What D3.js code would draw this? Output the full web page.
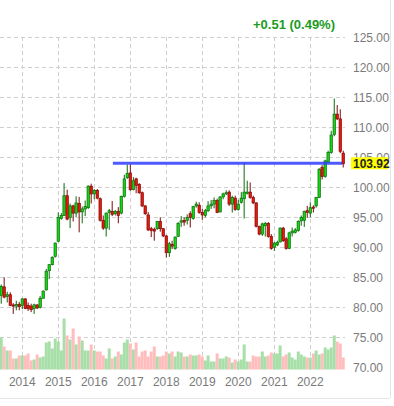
<!DOCTYPE html>
<html>
<head>
<meta charset="utf-8">
<script src="https://cdn.jsdelivr.net/npm/d3@7"></script>
<style>
  body { margin: 0; background: #fff; }
  svg { display: block; font-family: "Liberation Sans", Arial, sans-serif; }
</style>
</head>
<body>
<svg id="chart" width="394" height="406"></svg>
<script>
// monthly candles, Jun 2013 .. Dec 2022
var firstMonth = new Date(2013, 5, 1);

var open = [
  82.0, 83.4, 81.8, 82.1, 80.4, 80.2, 80.5,
  80.3, 81.4, 80.3, 80.2, 79.8, 80.4, 80.0, 81.5, 82.9, 86.1, 87.1, 88.5,
  91.0, 94.8, 95.3, 98.6, 95.0, 96.9, 95.7, 97.3, 95.9, 96.4, 96.6, 100.2,
  98.9, 99.5, 98.1, 94.5, 93.2, 95.8, 96.0, 95.6, 96.0, 95.7, 98.5, 101.6,
  102.4, 99.6, 101.4, 100.5, 99.1, 96.9, 95.4, 93.1, 93.0, 93.1, 94.3, 93.1,
  91.9, 89.1, 90.5, 89.8, 91.8, 94.2, 94.5, 94.5, 95.6, 94.8, 96.9, 97.0,
  95.8, 95.3, 96.1, 96.9, 97.2, 97.8, 95.9, 98.4, 98.9, 99.2, 97.2, 98.2,
  96.3, 97.5, 98.1, 99.0, 99.2, 98.3, 97.4, 93.5, 92.2, 93.6, 94.0, 91.8,
  90.0, 90.4, 90.9, 93.2, 91.4, 89.8, 92.4, 92.5, 92.8, 94.4, 94.5, 96.1,
  95.7, 96.7, 96.9, 98.3, 103.3, 101.8, 104.2, 105.8, 108.8, 112.2, 111.4, 105.7
];
var close = [
  83.5, 81.7, 82.1, 80.3, 80.2, 80.5, 80.1,
  81.4, 79.8, 79.8, 79.6, 80.4, 79.9, 81.5, 82.7, 86.0, 87.1, 88.3, 90.7,
  95.0, 95.3, 98.6, 94.7, 96.9, 95.7, 97.4, 95.9, 96.4, 96.8, 100.2, 98.9,
  99.5, 98.2, 94.5, 93.2, 95.7, 96.1, 95.5, 96.0, 95.3, 98.5, 101.4, 102.3,
  99.6, 101.1, 100.3, 99.1, 96.9, 95.6, 92.9, 92.8, 92.7, 94.3, 93.1, 91.9,
  89.1, 90.6, 90.2, 91.7, 94.0, 94.4, 94.2, 95.0, 95.0, 96.8, 97.2, 95.8,
  95.4, 96.1, 96.9, 97.2, 97.8, 95.8, 98.4, 98.9, 99.1, 97.2, 98.3, 96.3,
  97.2, 98.2, 99.2, 99.2, 98.3, 97.4, 93.5, 92.2, 93.9, 94.0, 91.8, 89.8,
  90.7, 90.8, 93.2, 91.1, 89.8, 92.4, 92.7, 92.9, 94.3, 95.0, 96.0, 95.8,
  96.6, 96.5, 98.3, 103.0, 101.8, 104.4, 105.8, 108.7, 112.2, 111.4, 106.0, 103.92
];
var high = [
  83.8, 85.0, 82.6, 82.5, 80.7, 81.1, 80.9,
  81.5, 81.5, 80.8, 80.6, 80.6, 80.5, 81.9, 82.8, 86.4, 87.2, 88.5, 90.8,
  95.8, 95.7, 100.7, 99.6, 97.3, 97.1, 98.5, 98.4, 96.8, 97.8, 100.3, 100.6,
  99.7, 99.7, 98.3, 95.3, 95.8, 96.4, 97.7, 96.2, 96.7, 98.6, 102.1, 103.8,
  103.8, 101.7, 101.6, 100.7, 99.3, 97.0, 95.9, 93.4, 93.3, 94.4, 95.0, 93.2,
  92.0, 90.9, 91.1, 91.8, 94.2, 95.2, 95.0, 95.5, 96.0, 96.9, 97.6, 97.5,
  96.4, 96.4, 97.7, 97.9, 98.3, 98.1, 98.5, 99.1, 99.5, 99.5, 98.6, 98.6,
  97.9, 99.2, 104.1, 101.1, 100.8, 98.6, 97.5, 93.6, 94.1, 94.2, 94.2, 92.2,
  90.9, 91.1, 93.3, 93.4, 91.7, 92.6, 93.3, 93.2, 94.5, 95.3, 96.1, 96.9,
  97.5, 97.0, 98.4, 103.2, 103.7, 104.6, 106.1, 109.4, 114.8, 113.7, 113.0, 106.1
];
var low = [
  80.6, 81.5, 80.8, 80.2, 78.9, 79.5, 79.5,
  79.7, 79.7, 79.4, 79.2, 78.9, 79.7, 79.8, 81.5, 82.8, 84.7, 87.0, 88.3,
  90.9, 94.6, 95.2, 94.5, 93.2, 94.3, 95.0, 92.5, 94.0, 95.2, 96.4, 97.3,
  98.0, 98.0, 94.3, 92.9, 91.8, 92.9, 95.2, 95.3, 94.0, 95.5, 98.3, 101.4,
  99.4, 99.5, 99.0, 98.9, 96.7, 95.4, 92.7, 91.7, 91.1, 92.9, 92.6, 91.7,
  88.3, 88.4, 89.7, 89.6, 91.8, 93.4, 93.6, 93.8, 93.3, 94.6, 96.6, 95.6,
  94.6, 95.0, 95.9, 96.4, 96.5, 95.7, 95.8, 98.0, 98.7, 96.9, 95.8, 96.1,
  96.1, 97.3, 94.8, 98.8, 98.1, 97.2, 93.3, 92.0, 91.9, 91.8, 91.6, 89.6,
  89.4, 90.2, 90.8, 90.9, 89.6, 89.7, 91.8, 92.3, 92.6, 93.6, 93.4, 94.9,
  95.0, 95.8, 96.6, 98.2, 101.3, 101.6, 104.1, 105.6, 108.5, 111.2, 105.7, 103.3
];
var volume = [
  32, 23, 19, 19, 11, 11, 14,
  14, 14, 16, 9, 10, 15, 12, 13, 27, 28, 21, 31,
  28, 19, 51, 34, 30, 41, 25, 33, 29, 19, 19, 25,
  19, 18, 18, 14, 11, 21, 11, 13, 18, 15, 27, 30,
  26, 20, 27, 13, 18, 19, 13, 18, 23, 13, 13, 14,
  18, 16, 18, 13, 18, 17, 13, 13, 15, 14, 14, 15,
  13, 9, 14, 8, 8, 16, 11, 11, 13, 12, 7, 10,
  8, 10, 25, 8, 8, 14, 13, 13, 18, 13, 14, 17,
  16, 16, 24, 13, 15, 17, 12, 10, 18, 15, 13, 12,
  12, 16, 19, 15, 16, 22, 20, 22, 34, 28, 26, 12
];
var priceTicks = [70, 75, 80, 85, 90, 95, 100, 105, 110, 115, 120, 125];
var yearTicks = [2014, 2015, 2016, 2017, 2018, 2019, 2020, 2021, 2022];
var resistance = { level: 104.0, from: new Date(2016, 6, 8), to: new Date(2022, 10, 20) };
var change = "+0.51 (0.49%)";

var data = close.map(function (c, i) {
  return { date: d3.timeMonth.offset(firstMonth, i), o: open[i], h: high[i], l: low[i], c: c, v: volume[i] };
});

var svg = d3.select("#chart");
var plotRight = 345;

var x = d3.scaleTime()
  .domain([new Date(2014, 0, 1), new Date(2022, 0, 1)])
  .range([22.3, 310.3]);
var y = d3.scaleLinear().domain([70, 125]).range([367.3, 37.3]);
var yv = d3.scaleLinear().domain([0, 51]).range([369.5, 318.5]);

// frame
svg.append("line").attr("x1", 390.5).attr("x2", 390.5).attr("y1", 0).attr("y2", 398)
  .attr("stroke", "#e6e6e6");
svg.append("line").attr("x1", 0).attr("x2", 390).attr("y1", 398.5).attr("y2", 398.5)
  .attr("stroke", "#e6e6e6");

// grid
svg.append("g").selectAll("line").data(priceTicks.filter(function (d) { return d > 70; }))
  .join("line")
  .attr("x1", 0).attr("x2", plotRight)
  .attr("y1", function (d) { return Math.round(y(d)) + 0.5; })
  .attr("y2", function (d) { return Math.round(y(d)) + 0.5; })
  .attr("stroke", "#cfcfcf").attr("stroke-dasharray", "4,3");

svg.append("g").selectAll("line").data(yearTicks)
  .join("line")
  .attr("x1", function (d) { return Math.round(x(new Date(d, 0, 1))) + 0.5; })
  .attr("x2", function (d) { return Math.round(x(new Date(d, 0, 1))) + 0.5; })
  .attr("y1", 37).attr("y2", 370)
  .attr("stroke", "#cfcfcf").attr("stroke-dasharray", "4,3");

// volume
svg.append("g").selectAll("rect").data(data)
  .join("rect")
  .attr("x", function (d) { return x(d.date) - 1.5; })
  .attr("width", 3)
  .attr("y", function (d) { return yv(d.v); })
  .attr("height", function (d) { return yv(0) - yv(d.v); })
  .attr("fill", function (d) { return d.c >= d.o ? "#a8dea8" : "#ffbdbd"; });

// candles
var up = function (d) { return d.c >= d.o; };
var candles = svg.append("g").selectAll("g").data(data).join("g");
candles.append("line")
  .attr("x1", function (d) { return x(d.date); })
  .attr("x2", function (d) { return x(d.date); })
  .attr("y1", function (d) { return y(d.h); })
  .attr("y2", function (d) { return y(d.l); })
  .attr("stroke", function (d) { return up(d) ? "#0b6b0b" : "#800808"; })
  .attr("stroke-width", 1);
candles.append("rect")
  .attr("x", function (d) { return x(d.date) - 1.2; })
  .attr("width", 2.4)
  .attr("y", function (d) { return y(Math.max(d.o, d.c)); })
  .attr("height", function (d) { return Math.max(1, Math.abs(y(d.o) - y(d.c))); })
  .attr("fill", function (d) { return up(d) ? "#12d612" : "#e8180c"; })
  .attr("stroke", function (d) { return up(d) ? "#0b6b0b" : "#800808"; })
  .attr("stroke-width", 0.7);

// resistance line
svg.append("line")
  .attr("x1", x(resistance.from)).attr("x2", x(resistance.to))
  .attr("y1", y(resistance.level)).attr("y2", y(resistance.level))
  .attr("stroke", "#2f3dff").attr("stroke-opacity", 0.85).attr("stroke-width", 3);

// price axis labels
svg.append("g").selectAll("text").data(priceTicks)
  .join("text")
  .attr("x", 353).attr("y", function (d) { return y(d) + 4.5; })
  .attr("font-size", 12).attr("fill", "#7a7a7a")
  .text(function (d) { return d.toFixed(2); });

// year labels
svg.append("g").selectAll("text").data(yearTicks)
  .join("text")
  .attr("x", function (d) { return x(new Date(d, 0, 1)); })
  .attr("y", 385.5)
  .attr("text-anchor", "middle")
  .attr("font-size", 12).attr("fill", "#7a7a7a")
  .text(function (d) { return d; });

// last price tag (covers part of the 105.00 label, as in the source)
var last = data[data.length - 1].c;
svg.append("rect").attr("x", 351).attr("y", y(last) - 6.5).attr("width", 37).attr("height", 12)
  .attr("fill", "#ffff00");
svg.append("text").attr("x", 353).attr("y", y(last) + 4.5)
  .attr("font-size", 12).attr("font-weight", "bold").attr("fill", "#222")
  .text(last.toFixed(2));

// change header
svg.append("text").attr("x", 335).attr("y", 29)
  .attr("text-anchor", "end")
  .attr("font-size", 13).attr("font-weight", "bold").attr("fill", "#1c9c1c")
  .text(change);
</script>
</body>
</html>
